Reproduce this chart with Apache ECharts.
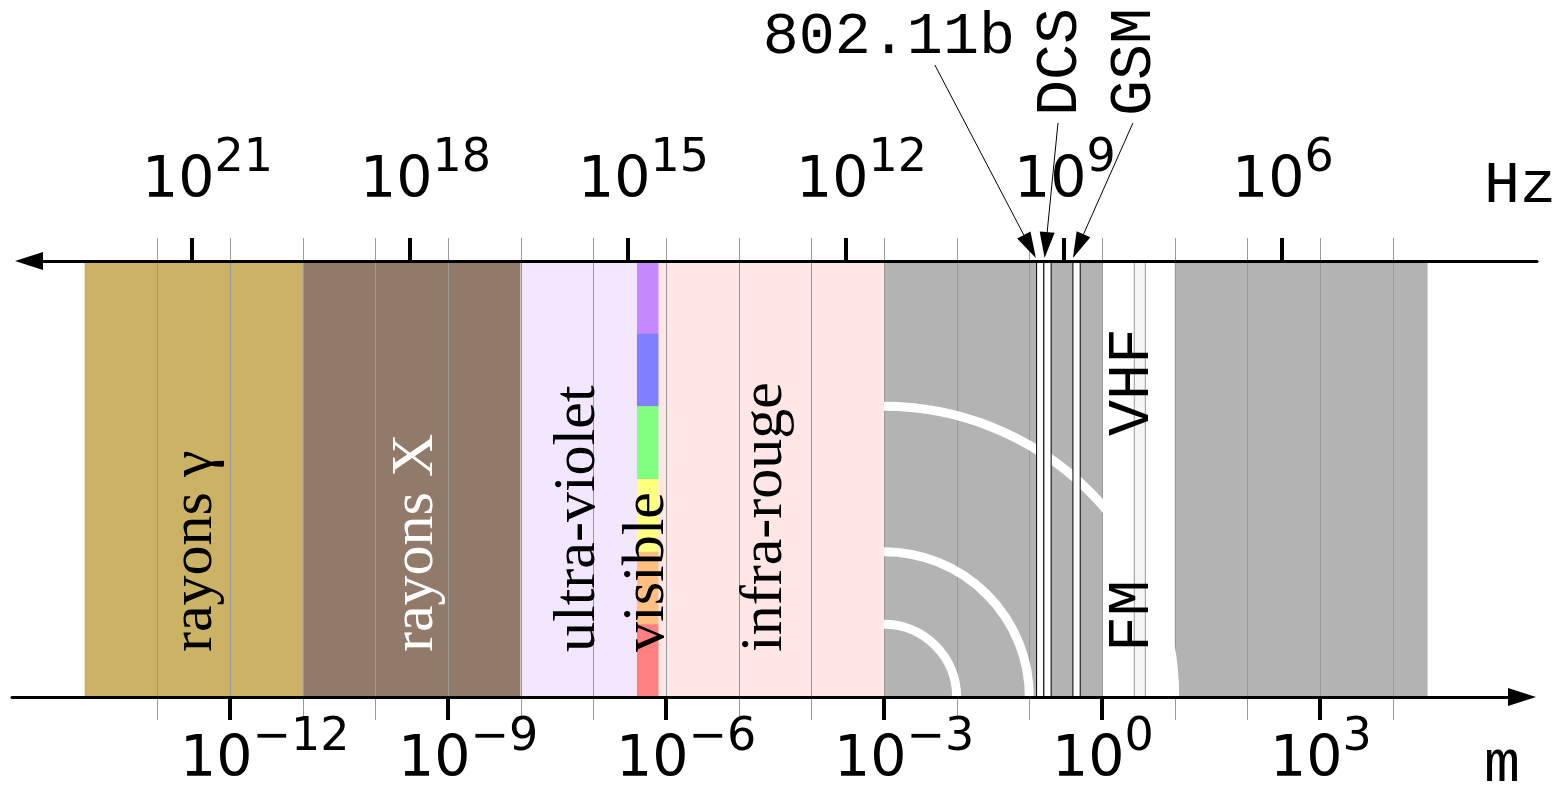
<!DOCTYPE html>
<html><head><meta charset="utf-8">
<script src="https://cdn.jsdelivr.net/npm/echarts@6/dist/echarts.min.js"></script>
<style>html,body{margin:0;padding:0;background:#fff}#c{width:1564px;height:788px}</style>
</head><body><div id="c"></div>
<script>
// ---------- DATA (positions on the wavelength axis are log10(λ / 1 m)) ----------
const domainLabels = ['rayons γ', 'rayons X', 'ultra-violet', 'visible', 'infra-rouge', '', 'VHF', ''];
const domainFrom   = [-14, -11, -8, -6.4, -6.1, -3, 0, 1];
const domainTo     = [-11, -8, -6.4, -6.1, -3, 0, 1, 4.48];
const telecomNames = ['802.11b', 'DCS', 'GSM'];
const telecomFrom  = [-0.9, -0.8, -0.4];
const telecomTo    = [-0.8, -0.7, -0.3];
const arrowTargets = [-0.91, -0.79, -0.4];
const fmName = 'FM';
const fmFrom = 0.444, fmTo = 0.596;
const waveCenter = -3;
const waveRadii = [1, 2, 4];                 // in decades
const decadeLines = [-13, -12, -11, -10, -9, -8, -7, -6, -5, -4, -3, -2, -1, 0, 1, 2, 3, 4];
const wavelengthTicks = [-12, -9, -6, -3, 0, 3];   // exponents of 10 m
const frequencyTicks = [21, 18, 15, 12, 9, 6];     // exponents of 10 Hz
const LOG10_C = Math.log10(299792458);             // λ = c / f

// ---------- STYLES / LAYOUT ----------
const domainColors = ['#cbb264', '#927a6b', '#f3e6ff', null, '#ffe6e6', '#b3b3b3', '#ffffff', '#b3b3b3'];
const visibleColors = ['#c688ff', '#8080ff', '#80ff80', '#ffff80', '#ffbf80', '#ff8080'];
const labelDx   = [1.5, 4.5, -1, -1, -6.5, 0, -6.5, 0];
const labelRise = [45, 45, 45, 45, 45, 0, 261, 0];
const labelColor = ['#000', '#fff', '#000', '#000', '#000', '#000', '#000', '#000'];
const X_ZERO = 1102, PX_PER_DECADE = 72.67;
const BAND_TOP = 261, BAND_BOTTOM = 697, W = 1564, H = 788;
const G0_L = 12, G0_R = 1522, G1_L = 29, G1_R = 1537;
const toVal = px => (px - X_ZERO) / PX_PER_DECADE;
const LABEL_SHIFT = -50 / PX_PER_DECADE;
const arrowTail = [[-101, -193], [13.4, -135], [60, -135]];
const arrowText = [{dx: -46, dy: -28, rot: 0, align: 'center'}, {dx: 2, dy: -7, rot: Math.PI / 2, align: 'left'}, {dx: 1, dy: -7, rot: Math.PI / 2, align: 'left'}];

const rich = {
  b: {fontFamily: 'DejaVu Sans', fontSize: 57, color: '#000', verticalAlign: 'middle'},
  s: {fontFamily: 'DejaVu Sans', fontSize: 46, color: '#000', verticalAlign: 'middle', padding: [0, 0, 46, 0]}
};
const expText = e => '{b|10}{s|' + (e < 0 ? '\u2212' + (-e) : String(e)) + '}';

const labelItems = [];
domainLabels.forEach((t, i) => { if (t) labelItems.push({text: t, from: domainFrom[i], to: domainTo[i], dx: labelDx[i], rise: labelRise[i], color: labelColor[i], font: t === 'VHF' ? 'Liberation Mono' : 'Liberation Serif'}); });
labelItems.push({text: fmName, from: fmFrom, to: fmTo, dx: -7.7, rise: 45, color: '#000', font: 'Liberation Mono'});

const chart = echarts.init(document.getElementById('c'), null, {renderer: 'canvas'});
const option = {
  animation: false,
  backgroundColor: '#fff',
  grid: [
    {left: G0_L, right: W - G0_R, top: BAND_TOP, bottom: H - BAND_BOTTOM, containLabel: false, outerBoundsMode: 'none'},
    {left: G1_L, right: W - G1_R, top: BAND_TOP, bottom: H - BAND_BOTTOM, containLabel: false, outerBoundsMode: 'none'}
  ],
  xAxis: [
    {type: 'value', gridIndex: 0, position: 'bottom', min: toVal(G0_L), max: toVal(G0_R), z: 10,
     axisLine: {show: true, onZero: false, symbol: ['none', 'triangle'], symbolSize: [18, 28], lineStyle: {color: '#000', width: 3}},
     axisTick: {show: true, customValues: wavelengthTicks, length: 23, lineStyle: {color: '#000', width: 4}},
     axisLabel: {show: true, customValues: wavelengthTicks.map(e => e + LABEL_SHIFT), align: 'left', margin: 18,
       formatter: v => expText(Math.round(v - LABEL_SHIFT)), rich: rich},
     splitLine: {show: false}, minorTick: {show: false},
     name: 'm', nameLocation: 'end', nameGap: 1484 - G0_R, nameMoveOverlap: false,
     nameTextStyle: {fontFamily: 'Liberation Mono', fontSize: 60, color: '#000', align: 'left', verticalAlign: 'top', padding: [38, 0, 0, 0]}
    },
    {type: 'value', gridIndex: 1, position: 'top', min: toVal(G1_L), max: toVal(G1_R), z: 10,
     axisLine: {show: true, onZero: false, symbol: ['triangle', 'none'], symbolSize: [18, 28], lineStyle: {color: '#000', width: 3}},
     axisTick: {show: true, customValues: frequencyTicks.map(n => LOG10_C - n), length: 23, lineStyle: {color: '#000', width: 4}},
     axisLabel: {show: true, customValues: frequencyTicks.map(n => LOG10_C - n + LABEL_SHIFT), align: 'left', margin: 33,
       formatter: v => expText(Math.round(LOG10_C + LABEL_SHIFT - v)), rich: rich},
     splitLine: {show: false}, minorTick: {show: false},
     name: 'Hz', nameLocation: 'end', nameGap: 1484 - G1_R, nameMoveOverlap: false,
     nameTextStyle: {fontFamily: 'Liberation Mono', fontSize: 60, color: '#000', align: 'left', verticalAlign: 'bottom', padding: [0, 0, 45, 0]}
    }
  ],
  yAxis: [
    {type: 'value', gridIndex: 0, min: 0, max: 1, show: false},
    {type: 'value', gridIndex: 1, min: 0, max: 1, show: false}
  ],
  series: [
    { // spectral domains
      type: 'custom', name: 'domaines', xAxisIndex: 0, yAxisIndex: 0, clip: false,
      data: domainFrom.map((f, i) => [f, domainTo[i]]), encode: {x: [0, 1]},
      renderItem(params, api) {
        const i = params.dataIndex;
        const a = api.coord([api.value(0), 0]), b = api.coord([api.value(1), 1]);
        const w = b[0] - a[0], h = a[1] - b[1];
        if (domainColors[i] === null) {
          return {type: 'group', children: visibleColors.map((c, k) => ({
            type: 'rect', shape: {x: a[0], y: b[1] + h * k / visibleColors.length, width: w, height: h / visibleColors.length + 0.5},
            style: {fill: c}}))};
        }
        return {type: 'rect', shape: {x: a[0], y: b[1], width: w, height: h}, style: {fill: domainColors[i]}};
      }
    },
    { // decade grid lines
      type: 'custom', name: 'décades', xAxisIndex: 0, yAxisIndex: 0, clip: false,
      data: decadeLines.map(v => [v]), encode: {x: 0},
      renderItem(params, api) {
        const a = api.coord([api.value(0), 0]), b = api.coord([api.value(0), 1]);
        const x = Math.round(a[0]) + 0.5;
        return {type: 'line', shape: {x1: x, y1: b[1] - 23, x2: x, y2: a[1] + 23}, style: {stroke: '#999', lineWidth: 1}};
      }
    },
    { // radio waves symbol
      type: 'custom', name: 'ondes', xAxisIndex: 0, yAxisIndex: 0, clip: false,
      data: waveRadii.map(r => [waveCenter, r]), encode: {x: 0},
      renderItem(params, api) {
        const c = api.coord([waveCenter, 0]);
        const r = api.size([api.value(1), 0])[0];
        return {type: 'arc', shape: {cx: c[0], cy: c[1], r: r, startAngle: -Math.PI / 2, endAngle: 0, clockwise: true},
          style: {stroke: '#fff', lineWidth: 9, fill: 'none'}};
      }
    },
    { // telecom bands
      type: 'custom', name: 'télécom', xAxisIndex: 0, yAxisIndex: 0, clip: false,
      data: telecomFrom.map((f, i) => [f, telecomTo[i]]), encode: {x: [0, 1]},
      renderItem(params, api) {
        const a = api.coord([api.value(0), 0]), b = api.coord([api.value(1), 1]);
        return {type: 'rect', shape: {x: a[0], y: b[1], width: b[0] - a[0], height: a[1] - b[1]},
          style: {fill: '#fff', stroke: '#000', lineWidth: 1}};
      }
    },
    { // FM band
      type: 'custom', name: 'FM', xAxisIndex: 0, yAxisIndex: 0, clip: false,
      data: [[fmFrom, fmTo]], encode: {x: [0, 1]},
      renderItem(params, api) {
        const a = api.coord([api.value(0), 0]), b = api.coord([api.value(1), 1]);
        return {type: 'rect', shape: {x: a[0], y: b[1], width: b[0] - a[0], height: a[1] - b[1]},
          style: {fill: '#f5f5f5', stroke: '#999', lineWidth: 1}};
      }
    },
    { // domain labels
      type: 'custom', name: 'étiquettes', xAxisIndex: 0, yAxisIndex: 0, clip: false,
      data: labelItems.map(it => [it.from, it.to]), encode: {x: [0, 1]},
      renderItem(params, api) {
        const it = labelItems[params.dataIndex];
        const a = api.coord([api.value(0), 0]), b = api.coord([api.value(1), 0]);
        return {type: 'text', x: (a[0] + b[0]) / 2 + it.dx, y: a[1] - it.rise, rotation: Math.PI / 2,
          style: {text: it.text, fontFamily: it.font, fontSize: 60, fill: it.color, align: 'left', verticalAlign: 'middle'}};
      }
    },
    { // telecom annotations with arrows
      type: 'custom', name: 'annotations', xAxisIndex: 0, yAxisIndex: 0, clip: false,
      data: arrowTargets.map(v => [v]), encode: {x: 0},
      renderItem(params, api) {
        const i = params.dataIndex;
        const p = api.coord([api.value(0), 1]);
        const tip = [p[0], p[1] - 3];
        const tail = [tip[0] + arrowTail[i][0], tip[1] + arrowTail[i][1]];
        const dx = tip[0] - tail[0], dy = tip[1] - tail[1], len = Math.hypot(dx, dy);
        const ux = dx / len, uy = dy / len, L = 26, HW = 7.5;
        const base = [tip[0] - L * ux, tip[1] - L * uy];
        const t = arrowText[i];
        return {type: 'group', children: [
          {type: 'line', shape: {x1: tail[0], y1: tail[1], x2: base[0], y2: base[1]}, style: {stroke: '#000', lineWidth: 1}},
          {type: 'polygon', shape: {points: [tip, [base[0] - HW * uy, base[1] + HW * ux], [base[0] + HW * uy, base[1] - HW * ux]]}, style: {fill: '#000'}},
          {type: 'text', x: tail[0] + t.dx, y: tail[1] + t.dy, rotation: t.rot,
            style: {text: telecomNames[i], fontFamily: 'Liberation Mono', fontSize: 60, fill: '#000', align: t.align, verticalAlign: 'middle'}}
        ]};
      }
    }
  ]
};
chart.setOption(option);
</script></body></html>
